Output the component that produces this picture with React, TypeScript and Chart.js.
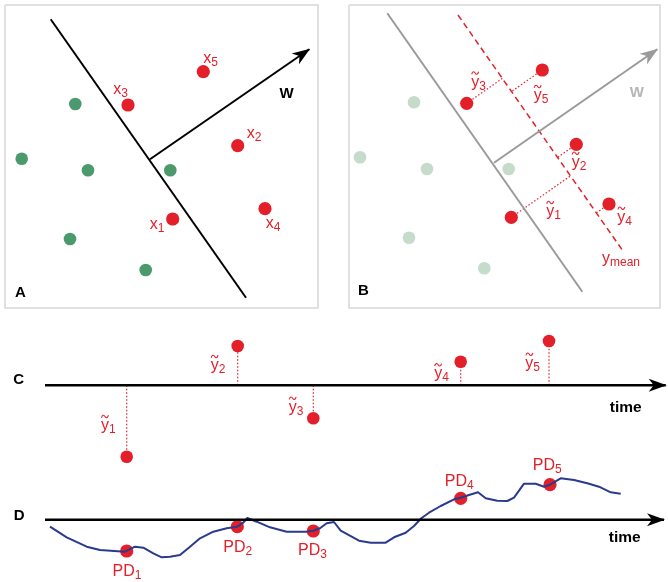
import React, { useEffect, useRef } from "react";
import { Chart, registerables } from "chart.js";

Chart.register(...registerables);

// ---------- colours ----------
const RED = "#e3202a";
const GREEN = "#4b9a6d";
const LIGHT_GREEN = "#c6dccb";
const GRAY = "#9a9a9a";
const GRAY_TEXT = "#b5b5b5";
const BLUE = "#2a3a8c";
const FRAME = "#e0e0e0";
const BLACK = "#000000";

// ---------- panel frames ----------
const frameAX = [5, 318, 318, 5, 5];
const frameAY = [5, 5, 308, 308, 5];
const frameBX = [349, 660, 660, 349, 349];
const frameBY = [5, 5, 308, 308, 5];

// ---------- panel A ----------
const aSepX = [50.7, 246];
const aSepY = [19.3, 297.7];
const aWX = [150, 309.3];
const aWY = [159.3, 49.3];
const aGreenX = [75.3, 21.7, 88, 170.3, 70, 145.7];
const aGreenY = [104, 158.7, 170.3, 170.3, 239, 270];
const aRedX = [172.7, 237.7, 128, 265, 203.3];
const aRedY = [219, 145.7, 105, 208.7, 71.7];
const aLabelSub = ["1", "2", "3", "4", "5"];
const aLabelX = [157, 254, 120.5, 273, 210.7];
const aLabelY = [229, 138, 94, 228, 62.5];

// ---------- panel B ----------
const bSepX = [387.3, 582.3];
const bSepY = [13.3, 291.7];
const bWX = [494, 657.3];
const bWY = [162.7, 49.3];
const bMeanX = [458, 622.3];
const bMeanY = [15, 250];
const bGreenX = [414, 360, 427, 508.7, 409, 484.3];
const bGreenY = [102.3, 157.3, 169, 169, 237.7, 268.3];
const bRedX = [511.3, 576.3, 466.7, 609, 542.3];
const bRedY = [217.3, 144.3, 103.3, 204, 70];
const bFootX = [570.5, 557.6, 502.3, 596.3, 511.5];
const bFootY = [175.9, 157.4, 78.4, 212.9, 91.5];
const bLabelX = [553.5, 579, 478.5, 624.7, 541];
const bLabelY = [216, 166.7, 86.5, 221.7, 100];

// ---------- panel C ----------
const cAxisX = [45, 665.7];
const cAxisY = [385.3, 385.3];
const cTimeX = [126.7, 237.7, 313.3, 460.7, 549];
const cValueY = [456.7, 346, 418.3, 361.7, 341];
const cLabelX = [108.3, 218, 296, 441.5, 532.7];
const cLabelY = [430, 370, 411.7, 378.3, 367.7];

// ---------- panel D ----------
const dAxisX = [45, 664];
const dAxisY = [519.7, 519.7];
const blueX = [50, 66.7, 86.7, 100, 125, 135, 143.3, 153.3, 161.7, 170, 180, 190, 200, 213.3, 226.7, 237.3, 243.3, 247.3, 256.7, 270, 286.7, 306.7, 313.3, 320, 326.7, 334, 340.7, 359, 370.7, 385.7, 394, 405.7, 414, 421.3, 429, 440.7, 454, 460.7, 469, 478, 485.7, 497.3, 507.3, 514, 524, 535.7, 544, 550, 560.7, 574, 587.3, 599, 610.7, 620.7];
const blueY = [526.7, 537.3, 546.7, 550, 551.7, 546.7, 547.7, 553.3, 557.3, 556.7, 555, 546.7, 538.3, 531.7, 528.3, 526.7, 522.7, 518, 521.7, 527.3, 531.7, 531.7, 530.7, 528.3, 523.3, 522, 530.7, 540.7, 542.7, 542.7, 537.3, 532.7, 526, 518.3, 512.7, 506, 499.3, 497.7, 495, 492.3, 498.3, 500.7, 501, 497.7, 483.7, 483.7, 486.7, 484.7, 478.3, 480, 483.3, 486.7, 492.3, 493.7];
const pdX = [126.7, 237.3, 313.3, 460.7, 550];
const pdY = [551, 526.7, 531, 498.3, 484.7];
const pdLabelX = [127, 237.7, 312.5, 459.3, 547.3];
const pdLabelY = [576, 551.7, 555.3, 486, 470];

// ---------- other texts ----------
const panelLetters = ["A", "B", "C", "D"];
const panelLetterX = [20.5, 363.5, 18.7, 19.2];
const panelLetterY = [296.5, 295, 384.3, 520];
const timeLabelX = [625.7, 624.7];
const timeLabelY = [411.7, 542.3];

const FONT = '"Liberation Sans", Arial, Helvetica, sans-serif';

const pts = (xs: number[], ys: number[]) => xs.map((x, i) => ({ x, y: ys[i] }));

type Label = {
  text: string;
  sub?: string;
  x: number;
  y: number;
  color: string;
  size: number;
  subSize?: number;
  bold?: boolean;
  tilde?: boolean;
};

const buildLabels = (): Label[] => {
  const out: Label[] = [];
  aLabelSub.forEach((s, i) =>
    out.push({ text: "x", sub: s, x: aLabelX[i], y: aLabelY[i], color: RED, size: 16, subSize: 12 })
  );
  aLabelSub.forEach((s, i) =>
    out.push({ text: "y", tilde: true, sub: s, x: bLabelX[i], y: bLabelY[i], color: RED, size: 16, subSize: 12 })
  );
  aLabelSub.forEach((s, i) =>
    out.push({ text: "y", tilde: true, sub: s, x: cLabelX[i], y: cLabelY[i], color: RED, size: 16, subSize: 12 })
  );
  aLabelSub.forEach((s, i) =>
    out.push({ text: "PD", sub: s, x: pdLabelX[i], y: pdLabelY[i], color: RED, size: 16, subSize: 12 })
  );
  out.push({ text: "y", sub: "mean", x: 621, y: 263, color: RED, size: 16, subSize: 12 });
  out.push({ text: "W", x: 286.5, y: 97.5, color: BLACK, size: 15, bold: true });
  out.push({ text: "W", x: 636.8, y: 96.7, color: GRAY_TEXT, size: 15, bold: true });
  panelLetters.forEach((t, i) =>
    out.push({ text: t, x: panelLetterX[i], y: panelLetterY[i], color: BLACK, size: 15, bold: true })
  );
  timeLabelX.forEach((x, i) =>
    out.push({ text: "time", x, y: timeLabelY[i], color: BLACK, size: 15.5, bold: true })
  );
  return out;
};

const labelPlugin = {
  id: "diagramLabels",
  afterDatasetsDraw(chart: any) {
    const { ctx } = chart;
    const sx = chart.scales.x;
    const sy = chart.scales.y;
    ctx.save();
    ctx.textBaseline = "alphabetic";
    ctx.textAlign = "left";
    for (const l of buildLabels()) {
      const px = sx.getPixelForValue(l.x);
      const py = sy.getPixelForValue(l.y);
      const mainFont = `${l.bold ? "bold " : ""}${l.size}px ${FONT}`;
      const subFont = `${l.subSize || 12}px ${FONT}`;
      ctx.font = mainFont;
      const mw = ctx.measureText(l.text).width;
      let sw = 0;
      if (l.sub) {
        ctx.font = subFont;
        sw = ctx.measureText(l.sub).width;
      }
      const start = px - (mw + sw) / 2;
      ctx.fillStyle = l.color;
      ctx.font = mainFont;
      ctx.fillText(l.text, start, py);
      if (l.tilde) {
        const x0 = start + 0.5;
        const w = mw - 1;
        const ty = py - 13.5;
        ctx.strokeStyle = l.color;
        ctx.lineWidth = 1.1;
        ctx.beginPath();
        ctx.moveTo(x0, ty + 1.2);
        ctx.bezierCurveTo(x0 + w * 0.15, ty - 1.8, x0 + w * 0.35, ty - 1.8, x0 + w * 0.5, ty);
        ctx.bezierCurveTo(x0 + w * 0.65, ty + 1.8, x0 + w * 0.85, ty + 1.8, x0 + w, ty - 1.2);
        ctx.stroke();
      }
      if (l.sub) {
        ctx.font = subFont;
        ctx.fillText(l.sub, start + mw, py + 3);
      }
    }
    ctx.restore();
  },
};

const arrowPlugin = {
  id: "arrowHeads",
  afterDatasetsDraw(chart: any) {
    const { ctx } = chart;
    chart.data.datasets.forEach((ds: any, i: number) => {
      if (!ds.arrowHead) return;
      const meta = chart.getDatasetMeta(i);
      const n = meta.data.length;
      if (n < 2) return;
      const a = meta.data[n - 2];
      const b = meta.data[n - 1];
      const dx = b.x - a.x;
      const dy = b.y - a.y;
      const len = Math.hypot(dx, dy);
      const ux = dx / len;
      const uy = dy / len;
      const nx = -uy;
      const ny = ux;
      const L = 17;
      const W = 6.5;
      const notch = 5;
      ctx.save();
      ctx.fillStyle = ds.borderColor;
      ctx.beginPath();
      ctx.moveTo(b.x + ux * 1, b.y + uy * 1);
      ctx.lineTo(b.x - ux * L + nx * W, b.y - uy * L + ny * W);
      ctx.lineTo(b.x - ux * (L - notch), b.y - uy * (L - notch));
      ctx.lineTo(b.x - ux * L - nx * W, b.y - uy * L - ny * W);
      ctx.closePath();
      ctx.fill();
      ctx.restore();
    });
  },
};

const lineDs = (data: any[], color: string, width: number, extra: any = {}) => ({
  type: "scatter",
  data,
  showLine: true,
  borderColor: color,
  backgroundColor: color,
  borderWidth: width,
  pointRadius: 0,
  pointHoverRadius: 0,
  tension: 0,
  clip: false,
  ...extra,
});

const dotDs = (data: any[], color: string, r: number) => ({
  type: "scatter",
  data,
  showLine: false,
  pointRadius: r,
  pointHoverRadius: r,
  pointBackgroundColor: color,
  pointBorderWidth: 0,
  borderColor: color,
  backgroundColor: color,
  clip: false,
});

export default function App() {
  const ref = useRef<HTMLCanvasElement | null>(null);

  useEffect(() => {
    if (!ref.current) return;
    const datasets: any[] = [];
    // frames
    datasets.push(lineDs(pts(frameAX, frameAY), FRAME, 2));
    datasets.push(lineDs(pts(frameBX, frameBY), FRAME, 2));
    // panel A
    datasets.push(lineDs(pts(aSepX, aSepY), BLACK, 2));
    datasets.push(lineDs(pts(aWX, aWY), BLACK, 2, { arrowHead: true }));
    // panel B
    datasets.push(lineDs(pts(bSepX, bSepY), GRAY, 2));
    datasets.push(lineDs(pts(bWX, bWY), GRAY, 2, { arrowHead: true }));
    datasets.push(lineDs(pts(bMeanX, bMeanY), RED, 1.5, { borderDash: [6, 4] }));
    bRedX.forEach((x, i) =>
      datasets.push(
        lineDs([{ x, y: bRedY[i] }, { x: bFootX[i], y: bFootY[i] }], RED, 1.2, { borderDash: [1.5, 2] })
      )
    );
    // panel C
    datasets.push(lineDs(pts(cAxisX, cAxisY), BLACK, 2.5, { arrowHead: true }));
    cTimeX.forEach((x, i) =>
      datasets.push(
        lineDs([{ x, y: cAxisY[0] }, { x, y: cValueY[i] }], RED, 1.2, { borderDash: [1.5, 2] })
      )
    );
    // panel D
    datasets.push(lineDs(pts(dAxisX, dAxisY), BLACK, 2.5, { arrowHead: true }));
    datasets.push(lineDs(pts(blueX, blueY), BLUE, 2, { borderJoinStyle: "round" }));
    // dots
    datasets.push(dotDs(pts(aGreenX, aGreenY), GREEN, 6.3));
    datasets.push(dotDs(pts(aRedX, aRedY), RED, 6.6));
    datasets.push(dotDs(pts(bGreenX, bGreenY), LIGHT_GREEN, 6.3));
    datasets.push(dotDs(pts(bRedX, bRedY), RED, 6.6));
    datasets.push(dotDs(pts(cTimeX, cValueY), RED, 6.3));
    datasets.push(dotDs(pts(pdX, pdY), RED, 6.6));

    const chart = new Chart(ref.current, {
      type: "scatter",
      data: { datasets },
      options: {
        animation: false,
        responsive: true,
        maintainAspectRatio: false,
        events: [],
        layout: { padding: 0, autoPadding: false },
        plugins: { legend: { display: false }, tooltip: { enabled: false } },
        scales: {
          x: { type: "linear", min: 0, max: 668, display: false },
          y: { type: "linear", min: 0, max: 582, reverse: true, display: false },
        },
      },
      plugins: [arrowPlugin, labelPlugin],
    } as any);
    return () => chart.destroy();
  }, []);

  return (
    <div style={{ position: "fixed", left: 0, top: 0, width: 668, height: 582, background: "#fff" }}>
      <canvas ref={ref} />
    </div>
  );
}
